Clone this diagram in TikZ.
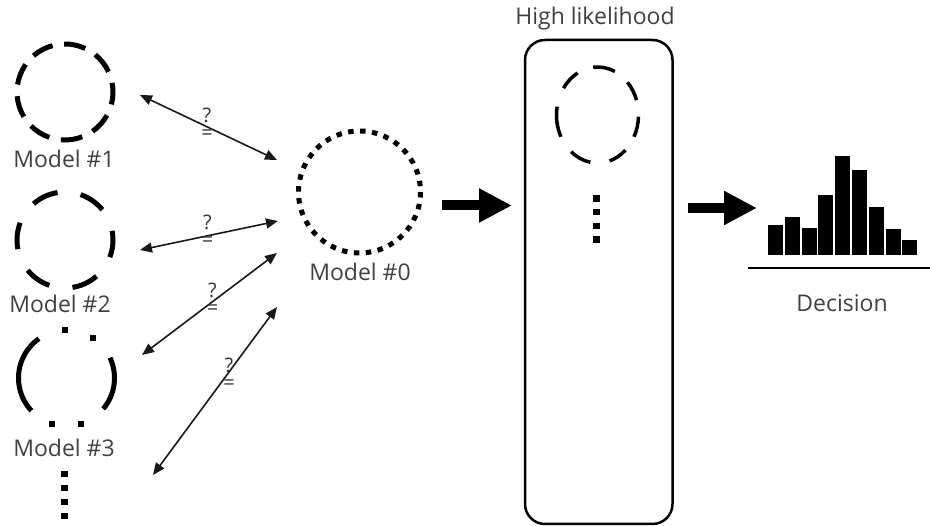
\documentclass[tikz,border=0pt]{standalone}
\usepackage{fontspec}
\setmainfont{Open Sans}
\usetikzlibrary{arrows.meta}
\begin{document}
\begin{tikzpicture}[x=1pt,y=-1pt,
  lbl/.style={font=\fontsize{23}{27}\selectfont, text=black!75, inner sep=0pt, anchor=base},
  qmark/.style={font=\fontsize{20}{17}\selectfont, text=black!80, inner sep=0pt, align=center},
  conn/.style={line width=1.6pt, black!90, {Triangle[length=12pt,width=10pt]}-{Triangle[length=12pt,width=10pt]}},
  bigarrow/.style={line width=10pt, black, -{Triangle[length=33pt,width=32pt]}},
  ring/.style={line width=5pt, black}]
\useasboundingbox (0,0) rectangle (930,526);

% model centres
\coordinate (m1) at (65,92);
\coordinate (m2) at (65,240);
\coordinate (m3) at (66.5,378);
\coordinate (m0) at (359.5,192);
\coordinate (hl) at (597.5,115);

% Model #1 (dashed): 9 dashes
\foreach \c in {-2,38,78,118,158,198,238,278,318}
  \draw[ring] (m1) ++({48*cos(\c-13)},{-48*sin(\c-13)}) arc[start angle={-(\c-13)}, end angle={-(\c+13)}, radius=48];
\node[lbl] (l1) at (64,168) {Model \#1};

% Model #2 (long dashes): 6 dashes
\foreach \c in {-5,55,115,175,235,295}
  \draw[ring] (m2) ++({48*cos(\c-16)},{-48*sin(\c-16)}) arc[start angle={-(\c-16)}, end angle={-(\c+16)}, radius=48];
\node[lbl] (l2) at (60,313) {Model \#2};

% Model #3 (long dash dot dot)
\draw[ring] (m3) ++(-125:48) arc[start angle=-125, end angle=-223, radius=48];
\draw[ring] (m3) ++(40:48) arc[start angle=40, end angle=-25, radius=48];
\foreach \a in {-56,-92,-252,-288}
  \fill (m3) ++(\a:48) +(-3,-3) rectangle +(3,3);
\node[lbl] (l3) at (64,457) {Model \#3};

% vertical dots below
\coordinate (v1s) at (64.5,471.5);
\coordinate (v1e) at (64.5,519.5);
\draw[line width=6.5pt, dash pattern=on 6pt off 8pt] (v1s) -- (v1e);

% Model #0 (dotted)
\draw[ring, dash pattern=on 5.5pt off 6.5pt] (m0) circle[radius=61];
\node[lbl] (l0) at (360,281) {Model \#0};

% connectors
\coordinate (a1s) at (140,95);   \coordinate (a1e) at (277,160);
\coordinate (a2s) at (140,250);  \coordinate (a2e) at (278,221);
\coordinate (a3s) at (142,355);  \coordinate (a3e) at (277,253);
\coordinate (a4s) at (153,475);  \coordinate (a4e) at (277,307);
\draw[conn] (a1s) -- (a1e);
\draw[conn] (a2s) -- (a2e);
\draw[conn] (a3s) -- (a3e);
\draw[conn] (a4s) -- (a4e);
\node[qmark] (q1) at (207,123.5) {?\\=};
\node[qmark] (q2) at (207.5,231) {?\\=};
\node[qmark] (q3) at (212.5,299) {?\\=};
\node[qmark] (q4) at (229,374) {?\\=};

% big arrow 1
\coordinate (b1s) at (442,205.5);
\coordinate (b1e) at (512,205.5);
\draw[bigarrow] (b1s) -- (b1e);

% High likelihood box
\draw[line width=2.5pt, rounded corners=20pt] (525,40) rectangle (672.5,524);
\node[lbl] (lh) at (595,25) {High likelihood};
\foreach \a/\b in {65/96,18/43,-27/-2,-73/-47,-130/-100,170/207,119/146}
  \draw[line width=3.5pt] (hl) ++({41*cos(\a)},{-48*sin(\a)}) arc[start angle={-\a}, end angle={-\b}, x radius=41, y radius=48];
\coordinate (v2s) at (596.7,195);
\coordinate (v2e) at (596.7,243.3);
\draw[line width=7pt, dash pattern=on 6.6pt off 7.2pt] (v2s) -- (v2e);

% big arrow 2
\coordinate (b2s) at (688,208);
\coordinate (b2e) at (757,208);
\draw[bigarrow] (b2s) -- (b2e);

% histogram
\foreach \i/\t in {0/225,1/217,2/228,3/195,4/156,5/170,6/207,7/229,8/240}
  \fill (768+16.8*\i,255) rectangle (783+16.8*\i,\t);
\coordinate (hb1) at (748,268);
\coordinate (hb2) at (930,268);
\draw[line width=2.5pt] (hb1) -- (hb2);
\node[lbl] (ld) at (842,312) {Decision};
\end{tikzpicture}
\end{document}
